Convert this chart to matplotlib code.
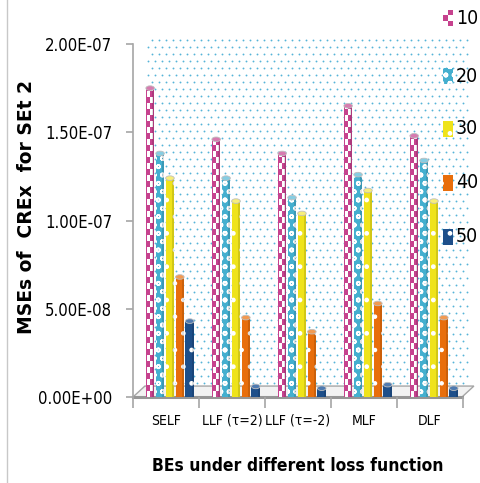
"""Clustered cylinder bars of MSEs of CREx for SEt 2."""

import matplotlib
matplotlib.use('Agg')
import matplotlib.pyplot as plt
from matplotlib import patches
import numpy as np

plt.rcParams['font.family'] = ['DejaVu Sans']
plt.rcParams['font.stretch'] = 'condensed'

categories = ['SELF', 'LLF (τ=2)', 'LLF (τ=-2)', 'MLF', 'DLF']
series = ['10', '20', '30', '40', '50']
mse_10 = [1.75e-7, 1.46e-7, 1.38e-7, 1.65e-7, 1.48e-7]
mse_20 = [1.38e-7, 1.24e-7, 1.13e-7, 1.26e-7, 1.34e-7]
mse_30 = [1.24e-7, 1.11e-7, 1.04e-7, 1.17e-7, 1.11e-7]
mse_40 = [6.8e-8, 4.5e-8, 3.7e-8, 5.3e-8, 4.5e-8]
mse_50 = [4.3e-8, 6e-9, 5e-9, 7e-9, 5e-9]
yticks = [0, 5e-8, 1e-7, 1.5e-7, 2e-7]
ytick_labels = ['0.00E+00', '5.00E-08', '1.00E-07', '1.50E-07', '2.00E-07']

values = [mse_10, mse_20, mse_30, mse_40, mse_50]
colors = ['#C6428E', '#44AFCF', '#EFE31B', '#E86E0C', '#1E4F8A']
tops = ['#D77BB0', '#86CDE2', '#F7EE7A', '#F29A52', '#4F7AB0']
hatches = [None, 'oo', '.', '.', '.']
hatch_lw = [1.0, 1.2, 1.0, 0.8, 1.0]

fig = plt.figure(figsize=(4.81, 4.83), dpi=100)
ax = fig.add_axes([133/481, 86/483, 330/481, 353/483])
ax.set_xlim(-0.5, 4.5)
ax.set_ylim(0, 2e-7)

# dotted back wall
dx, dy = 0.036, 0.031
gx = np.arange(dx + 0.01, 1.02, 7/330)
gy = np.arange(dy + 0.01, 1.025, 7/353)
X, Y = np.meshgrid(gx, gy)
X = X + (np.arange(len(gy))[:, None] % 2) * 3.5/330
ax.scatter(X.ravel(), Y.ravel(), s=1.8, color='#55B4D8', transform=ax.transAxes,
           clip_on=False, zorder=0, linewidths=0)

# floor
floor = patches.Polygon([(0, 0), (0.997, 0), (0.997 + dx, dy), (dx, dy)],
                        closed=True, transform=ax.transAxes, facecolor='#F2F2F2',
                        edgecolor='#A6A6A6', lw=1, clip_on=False, zorder=1)
ax.add_patch(floor)
ax.plot([0, 0.997], [0, 0], color='#969696', lw=2.2, transform=ax.transAxes,
        clip_on=False, zorder=1.5)

bw = 0.15
shift = 0.06
x = np.arange(len(categories))
eh = 2.6e-9
cell = 3.4e-9


def checkers(x0, w, h, zorder):
    # white squares alternating left/right inside a magenta column
    k = 0
    y0 = 0
    while y0 < h:
        hh = min(cell, h - y0)
        cx = x0 + 0.12 * w if k % 2 == 0 else x0 + 0.5 * w
        ax.add_patch(patches.Rectangle((cx, y0), 0.38 * w, hh, facecolor='white',
                                       lw=0, zorder=zorder))
        y0 += cell
        k += 1


for i, vals in enumerate(values):
    xs = x + (i - 2) * bw + shift
    for xc, v in zip(xs, vals):
        x0 = xc - bw/2 + 0.01
        w = bw - 0.02
        with plt.rc_context({'hatch.linewidth': hatch_lw[i]}):
            body = patches.Rectangle((x0, 0), w, v, facecolor=colors[i],
                                     edgecolor='white', hatch=hatches[i],
                                     lw=0, zorder=3)
        ax.add_patch(body)
        if i == 0:
            checkers(x0, w, v, 3.1)
        shade = patches.Rectangle((xc + bw/2 - 0.045, 0), 0.035, v,
                                  facecolor='black', alpha=0.12, lw=0, zorder=3.2)
        ax.add_patch(shade)
        ax.add_patch(patches.Ellipse((xc, 0), w, eh, facecolor=colors[i],
                                     lw=0, zorder=2.9))
        ax.add_patch(patches.Ellipse((xc, v), w, eh, facecolor=tops[i],
                                     edgecolor='#BFBFBF', lw=0.6, zorder=3.5))

for s in ['top', 'right', 'bottom']:
    ax.spines[s].set_visible(False)
ax.spines['left'].set_color('#A6A6A6')
ax.spines['left'].set_linewidth(1.2)
ax.set_facecolor('none')

ax.set_yticks(yticks)
ax.set_yticklabels(ytick_labels, fontsize=12)
ax.tick_params(axis='y', length=5, color='#A6A6A6', width=1.2, pad=10)
ax.set_xticks(np.arange(-0.5, 5, 1))
ax.set_xticklabels([])
ax.set_xticks(x, minor=True)
ax.set_xticklabels(categories, minor=True, fontsize=10)
ax.tick_params(axis='x', which='major', length=8, color='#A6A6A6', width=1.2)
ax.tick_params(axis='x', which='minor', length=0, pad=12)

fig.text(27/481, 1 - 207/483, 'MSEs of  CREx  for SEt 2', rotation=90,
         ha='center', va='center', fontsize=13.5, fontweight='bold',
         fontstretch='normal')
fig.text(298/481, 1 - 466/483, 'BEs under different loss function',
         ha='center', va='center', fontsize=12.5, fontweight='bold')

# legend
leg_y = [18, 76, 129, 183, 237]
for i, name in enumerate(series):
    yc = 1 - leg_y[i]/483
    with plt.rc_context({'hatch.linewidth': hatch_lw[i]}):
        fig.add_artist(patches.Rectangle((443/481, yc - 8/483), 10/481, 16/483,
                                         transform=fig.transFigure,
                                         facecolor=colors[i], edgecolor='white',
                                         hatch=hatches[i], lw=0))
    if i == 0:
        for r in range(3):
            cx = 443/481 + (0 if r % 2 == 0 else 5/481)
            fig.add_artist(patches.Rectangle((cx, yc - 8/483 + r * 5.3/483),
                                             5/481, 5.3/483, facecolor='white',
                                             transform=fig.transFigure, lw=0))
    fig.text(456/481, yc, name, ha='left', va='center', fontsize=14)

# chart border
fig.add_artist(plt.Line2D([7/481, 7/481], [0, 1], color='#C8C8C8', lw=1,
                          transform=fig.transFigure))

fig.savefig('out.png', dpi=100)
